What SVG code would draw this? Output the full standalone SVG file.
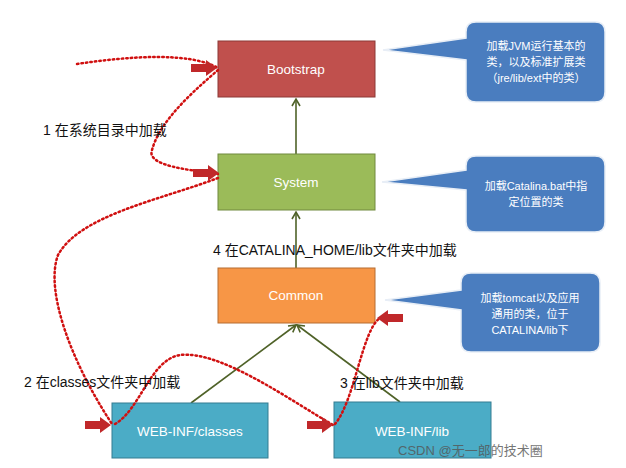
<svg xmlns="http://www.w3.org/2000/svg" width="626" height="468" viewBox="0 0 626 468">
<style>
.box text,.lbl{font-family:"Liberation Sans","Noto Sans CJK SC",sans-serif}
.bt{fill:#fff;font-size:13.5px;text-anchor:middle}
.ct{fill:#fff;font-size:11px;text-anchor:middle;font-family:"Liberation Sans","Noto Sans CJK SC",sans-serif}
.lbl{font-size:14px;fill:#111}
.dot{fill:none;stroke:#d01010;stroke-width:2.5;stroke-dasharray:1.5 3;stroke-linecap:round}
.gl{stroke:#4f6228;stroke-width:1.6;fill:none}
.call{fill:#4a7dbf;stroke:#e8eef6;stroke-width:1.5}
</style>
<defs>
<marker id="ah" markerWidth="10" markerHeight="10" refX="8" refY="5" orient="auto" markerUnits="userSpaceOnUse"><path d="M1,1 L8,5 L1,9" fill="none" stroke="#4f6228" stroke-width="1.6"/></marker>
<path id="ra" d="M0,-4 L15,-4 L15,-8 L26,0 L15,8 L15,4 L0,4 Z" fill="#c0282a"/>
</defs>
<rect width="626" height="468" fill="#fff"/>
<g id="connectors">
<line class="gl" x1="296" y1="154" x2="296" y2="99" marker-end="url(#ah)"/>
<line class="gl" x1="296" y1="268" x2="296" y2="212" marker-end="url(#ah)"/>
<line class="gl" x1="191" y1="403" x2="296" y2="325" marker-end="url(#ah)"/>
<line class="gl" x1="400" y1="402" x2="297" y2="325" marker-end="url(#ah)"/>
</g>
<g id="bootstrap" class="box"><rect x="218" y="41" width="157" height="56" fill="#c0504d" stroke="#8c3836"/><text class="bt" x="296" y="74">Bootstrap</text></g>
<g id="system" class="box"><rect x="218" y="154" width="157" height="56" fill="#9bbb59" stroke="#71893f"/><text class="bt" x="296" y="187">System</text></g>
<g id="common" class="box"><rect x="218" y="268" width="157" height="55" fill="#f79646" stroke="#b66d31"/><text class="bt" x="296" y="300">Common</text></g>
<g id="classes" class="box"><rect x="112" y="403" width="156" height="55" fill="#4bacc6" stroke="#357d91"/><text class="bt" x="190" y="436">WEB-INF/classes</text></g>
<g id="lib" class="box"><rect x="334" y="402" width="157" height="56" fill="#4bacc6" stroke="#357d91"/><text class="bt" x="412" y="436">WEB-INF/lib</text></g>
<g id="callout1"><path class="call" d="M476,22 H595 Q605,22 605,32 V92 Q605,102 595,102 H476 Q466,102 466,92 V60 L383,50 L466,38 V32 Q466,22 476,22 Z"/>
<text class="ct" x="536" y="50">加载JVM运行基本的</text><text class="ct" x="536" y="66">类，以及标准扩展类</text><text class="ct" x="536" y="82">（jre/lib/ext中的类）</text></g>
<g id="callout2"><path class="call" d="M476,156 H595 Q605,156 605,166 V222 Q605,232 595,232 H476 Q466,232 466,222 V190 L382,182 L466,170 V166 Q466,156 476,156 Z"/>
<text class="ct" x="536" y="190">加载Catalina.bat中指</text><text class="ct" x="536" y="206">定位置的类</text></g>
<g id="callout3"><path class="call" d="M471,273 H590 Q600,273 600,283 V342 Q600,352 590,352 H471 Q461,352 461,342 V310 L385,300 L461,290 V283 Q461,273 471,273 Z"/>
<text class="ct" x="530" y="302">加载tomcat以及应用</text><text class="ct" x="530" y="318">通用的类，位于</text><text class="ct" x="530" y="334">CATALINA/lib下</text></g>
<g id="dotted">
<path class="dot" d="M77,64 C130,56 190,52 218,68"/>
<path class="dot" d="M218,70 C195,90 160,120 152,150 C146,166 190,170 218,174"/>
<path class="dot" d="M218,178 C160,200 80,215 58,255 C45,290 70,360 112,424"/>
<path class="dot" d="M115,424 C140,410 150,360 180,355 C220,350 290,400 333,425"/>
<path class="dot" d="M335,424 C355,400 362,330 380,318"/>
</g>
<g id="redarrows">
<use href="#ra" x="191" y="68"/><use href="#ra" x="193" y="173"/><use href="#ra" x="85" y="425"/><use href="#ra" x="307" y="425"/>
<use href="#ra" transform="translate(403,318) scale(-1,1)"/>
</g>
<g id="labels">
<text class="lbl" x="43" y="135">1 在系统目录中加载</text>
<text class="lbl" x="213" y="255">4 在CATALINA_HOME/lib文件夹中加载</text>
<text class="lbl" x="24" y="387">2 在classes文件夹中加载</text>
<text class="lbl" x="340" y="388">3 在lib文件夹中加载</text>
<text class="lbl" x="398" y="455" style="font-size:13px;fill:#555;opacity:.8">CSDN @无一郎的技术圈</text>
</g>
</svg>
